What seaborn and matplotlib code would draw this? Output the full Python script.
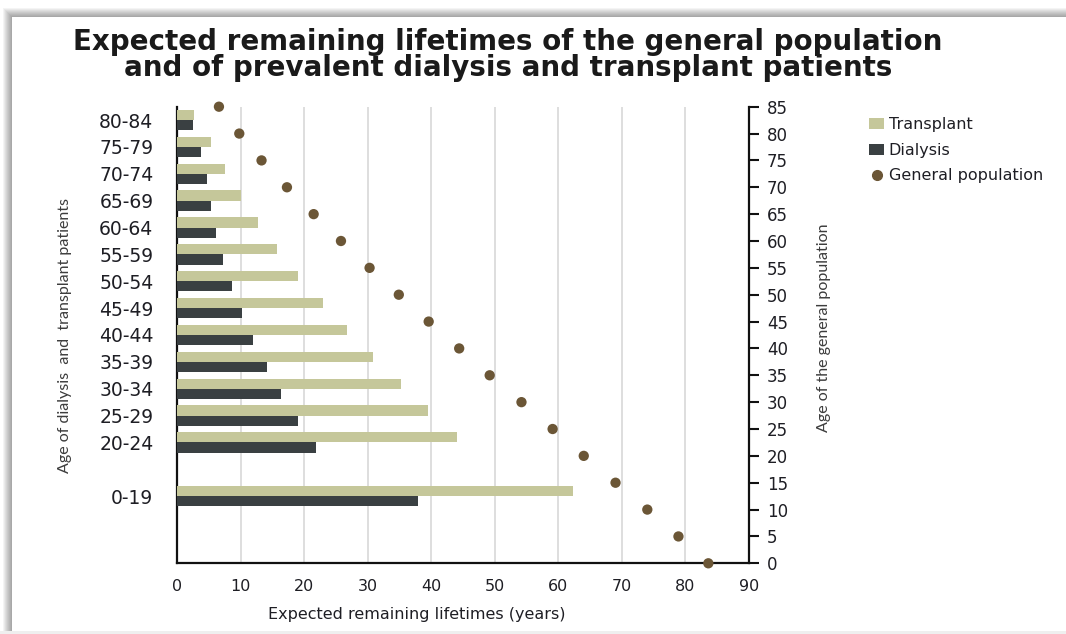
import numpy as np
import pandas as pd
import matplotlib
matplotlib.use("Agg")
import matplotlib.pyplot as plt
from matplotlib.patches import Rectangle, Patch
from matplotlib.lines import Line2D
import seaborn as sns

# Age groups of dialysis / transplant patients (top to bottom)
age_groups = ["80-84", "75-79", "70-74", "65-69", "60-64", "55-59", "50-54",
              "45-49", "40-44", "35-39", "30-34", "25-29", "20-24", "0-19"]
# Expected remaining lifetimes (years)
transplant = [2.7, 5.3, 7.6, 10.0, 12.7, 15.8, 19.1, 23.0, 26.7, 30.8, 35.2, 39.5, 44.1, 62.3]
dialysis = [2.5, 3.7, 4.7, 5.3, 6.2, 7.2, 8.6, 10.3, 12.0, 14.2, 16.3, 19.0, 21.9, 37.9]

# General population: age vs expected remaining lifetime
gen_age = [85, 80, 75, 70, 65, 60, 55, 50, 45, 40, 35, 30, 25, 20, 15, 10, 5, 0]
gen_life = [6.6, 9.8, 13.3, 17.3, 21.5, 25.8, 30.3, 34.9, 39.6, 44.4, 49.2,
            54.2, 59.1, 64.0, 69.0, 74.0, 78.9, 83.6]

C_TRANS = "#C5C79A"
C_DIAL = "#3A4042"
C_GEN = "#6B5636"
TXT = "#1e1e24"
NARROW = ["Liberation Sans Narrow", "Lato"]

# Each group sits at the middle of its 5-year slot on the age scale;
# the 0-19 group takes the 10-14 slot.
slot = [int(g.split("-")[0]) + 2.5 if g != "0-19" else 12.5 for g in age_groups]

df = pd.DataFrame({
    "pos": slot * 2,
    "years": transplant + dialysis,
    "series": ["Transplant"] * len(slot) + ["Dialysis"] * len(slot),
})
gen = pd.DataFrame({"age": gen_age, "life": gen_life})

sns.set_theme(style="white")
plt.rcParams["font.family"] = ["DejaVu Sans"]

W, H = 1066, 634
fig = plt.figure(figsize=(W / 100, H / 100), dpi=100)
fig.patch.set_facecolor("white")

# Panel with a soft shadow on the top and left edges
px, py = 12, 17
fig.patches.append(Rectangle((0, 0), 1, 3 / H, transform=fig.transFigure,
                             facecolor="#efefef", edgecolor="none", zorder=-10))
for k in range(9, 0, -1):
    fig.patches.append(Rectangle(((px - k) / W, 3 / H), 1, (H - py + k - 3) / H,
                                 transform=fig.transFigure, facecolor="black",
                                 alpha=0.045, edgecolor="none", zorder=-9))
fig.patches.append(Rectangle((px / W, 3 / H), 1, (H - py - 3) / H, transform=fig.transFigure,
                             facecolor="white", edgecolor="none", zorder=-8))

ax = fig.add_axes([177 / W, 1 - 563.3 / H, (749 - 177) / W, (563.3 - 106.7) / H])
ax.patch.set_alpha(0)

sns.barplot(data=df, x="years", y="pos", hue="series", orient="h",
            hue_order=["Dialysis", "Transplant"],
            palette={"Transplant": C_TRANS, "Dialysis": C_DIAL},
            native_scale=True, width=0.76, linewidth=0, saturation=1,
            legend=False, ax=ax, zorder=3)

ax.set_xlim(0, 90)
ax.set_ylim(0, 85)
ax.set_xticks(np.arange(0, 91, 10))
ax.set_yticks(slot)
ax.set_yticklabels(age_groups)
ax.grid(axis="x", color="#d4d4d4", linewidth=1.1, zorder=0)
ax.grid(axis="y", visible=False)
ax.set_axisbelow(True)
ax.tick_params(axis="both", length=0, colors=TXT)
ax.tick_params(axis="y", labelsize=13.5, pad=17)
ax.tick_params(axis="x", labelsize=11.5, pad=11)
for s in ["top", "right"]:
    ax.spines[s].set_visible(False)
for s in ["left", "bottom"]:
    ax.spines[s].set_color("#111111")
    ax.spines[s].set_linewidth(1.6)
ax.set_xlabel("Expected remaining lifetimes (years)", fontsize=11.5, color=TXT)
ax.xaxis.set_label_coords(0.42, -0.095)
ax.set_ylabel("Age of dialysis  and  transplant patients", fontsize=11.5, color="#3c3c3c",
              family=NARROW)
ax.yaxis.set_label_coords(-0.183, 0.498)

# Right axis: age of the general population
ax2 = ax.twinx()
ax2.set_ylim(0, 85)
ax2.set_yticks(np.arange(0, 86, 5))
sns.scatterplot(data=gen, x="life", y="age", color=C_GEN, s=55, edgecolor="none",
                ax=ax2, zorder=5, clip_on=False)
ax2.set_xlim(0, 90)
for s in ["top", "left", "bottom"]:
    ax2.spines[s].set_visible(False)
ax2.spines["right"].set_color("#111111")
ax2.spines["right"].set_linewidth(1.6)
ax2.tick_params(axis="y", direction="out", length=7, width=1.5, colors="#111111",
                labelcolor=TXT, labelsize=12, pad=6)
ax2.set_ylabel("Age of the general population", fontsize=11.5, color="#3c3c3c",
               family=NARROW)
ax2.yaxis.set_label_coords(1.119, 0.515)
ax2.set_xlabel("")

fig.text(508 / W, 1 - 42 / H, "Expected remaining lifetimes of the general population",
         ha="center", va="center", fontsize=20, fontweight="bold", color="#1a1a1a")
fig.text(508 / W, 1 - 68 / H, "and of prevalent dialysis and transplant patients",
         ha="center", va="center", fontsize=20, fontweight="bold", color="#1a1a1a")

handles = [Patch(facecolor=C_TRANS, edgecolor="none"),
           Patch(facecolor=C_DIAL, edgecolor="none"),
           Line2D([], [], marker="o", linestyle="none", color=C_GEN, markersize=7)]
fig.legend(handles, ["Transplant", "Dialysis", "General population"],
           loc="upper left", bbox_to_anchor=(855 / W, 1 - 103 / H), frameon=False,
           fontsize=11.5, handlelength=0.9, handleheight=0.7, handletextpad=0.3,
           labelspacing=0.65, labelcolor=TXT)

fig.savefig("out.png", dpi=100)
